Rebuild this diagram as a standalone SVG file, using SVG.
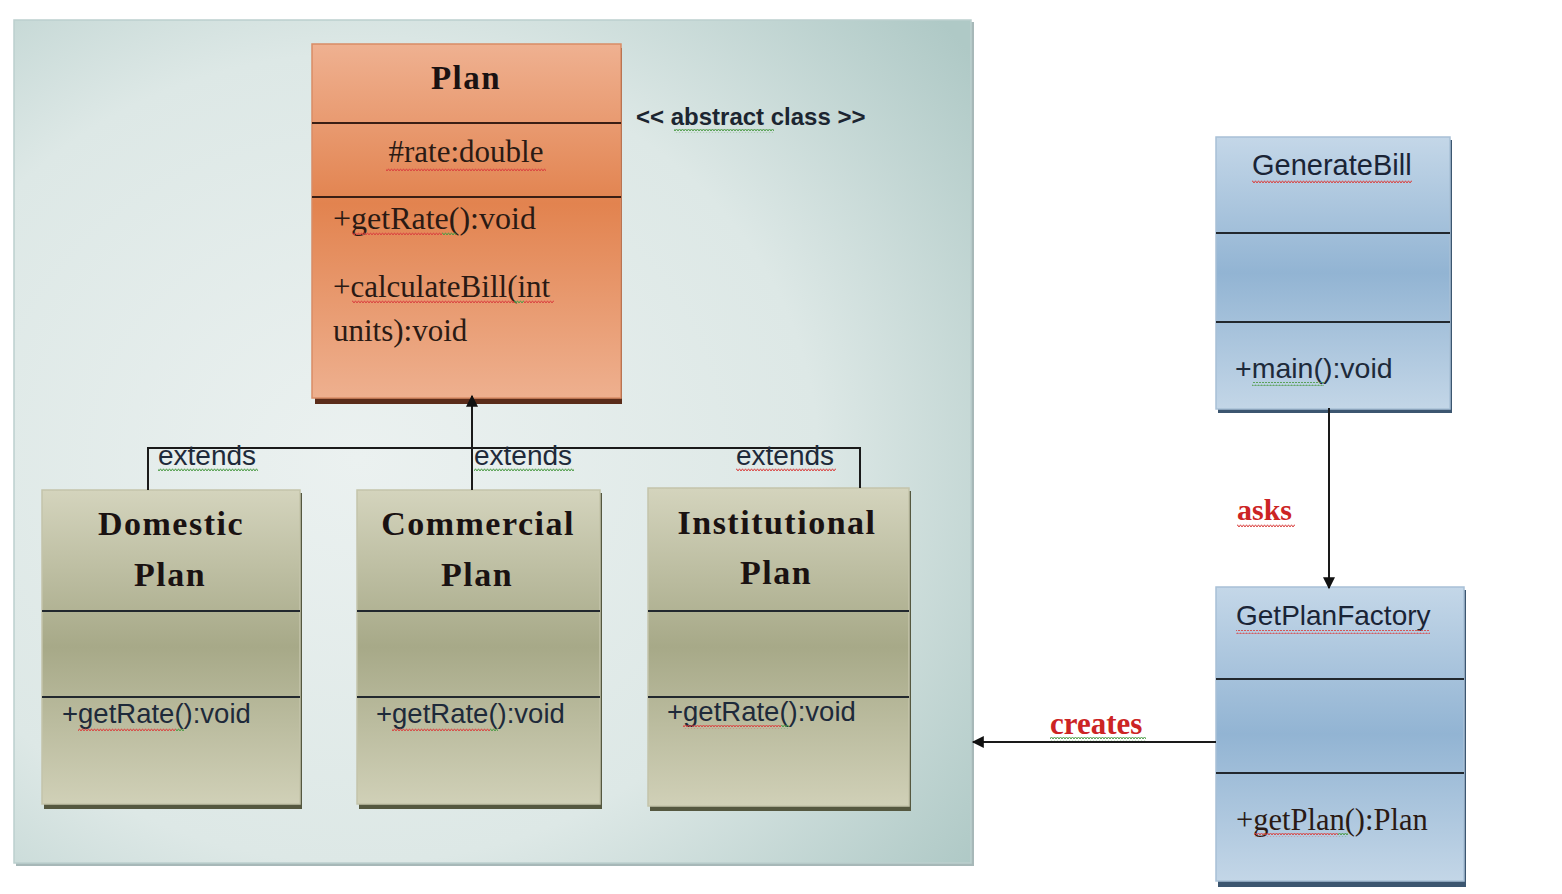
<svg xmlns="http://www.w3.org/2000/svg" width="1562" height="894" viewBox="0 0 1562 894">
  <defs>
    <radialGradient id="bgPanel" cx="0.36" cy="0.52" r="0.8">
      <stop offset="0" stop-color="#ebf1f0"/>
      <stop offset="0.6" stop-color="#dde8e6"/>
      <stop offset="1" stop-color="#afc9c6"/>
    </radialGradient>
    <linearGradient id="gOrange" x1="0" y1="0" x2="0" y2="1">
      <stop offset="0" stop-color="#efb191"/>
      <stop offset="0.45" stop-color="#e2834f"/>
      <stop offset="1" stop-color="#eeb08f"/>
    </linearGradient>
    <linearGradient id="gOlive" x1="0" y1="0" x2="0" y2="1">
      <stop offset="0" stop-color="#d4d4bd"/>
      <stop offset="0.5" stop-color="#a7a988"/>
      <stop offset="1" stop-color="#d0d0b7"/>
    </linearGradient>
    <linearGradient id="gBlue" x1="0" y1="0" x2="0" y2="1">
      <stop offset="0" stop-color="#c4d7e8"/>
      <stop offset="0.5" stop-color="#92b4d3"/>
      <stop offset="1" stop-color="#c3d6e7"/>
    </linearGradient>
    <pattern id="sqRed" width="6" height="4" patternUnits="userSpaceOnUse">
      <path d="M0 3 L1.5 0.8 L3 3 L4.5 0.8 L6 3" fill="none" stroke="#d9413f" stroke-width="1"/>
    </pattern>
    <pattern id="sqGreen" width="6" height="4" patternUnits="userSpaceOnUse">
      <path d="M0 3 L1.5 0.8 L3 3 L4.5 0.8 L6 3" fill="none" stroke="#4a9a44" stroke-width="1"/>
    </pattern>
    <marker id="arrow" viewBox="0 0 10 10" refX="9" refY="5" markerWidth="14" markerHeight="12" markerUnits="userSpaceOnUse" orient="auto">
      <path d="M0 0 L10 5 L0 10 Z" fill="#111"/>
    </marker>
  </defs>
  <style>
    .serifB { font-family: "Liberation Serif", "Times New Roman", serif; font-weight: bold; fill: #1a1212; letter-spacing: 1.5px; }
    .serif { font-family: "Liberation Serif", "Times New Roman", serif; fill: #2a1a14; }
    .sans { font-family: "Liberation Sans", Arial, sans-serif; fill: #1e2a3a; }
    .red { font-family: "Liberation Serif", "Times New Roman", serif; font-weight: bold; fill: #cc2424; }
    .div { stroke: #22282e; stroke-width: 2; }
    .conn { stroke: #1a1a1a; stroke-width: 2; fill: none; }
  </style>

  <rect width="1562" height="894" fill="#ffffff"/>

  <!-- container panel -->
  <g id="panel">
    <rect x="16" y="22" width="958" height="844" fill="#a7b8b8"/>
    <rect x="14" y="20" width="957" height="843" fill="url(#bgPanel)" stroke="#bccfce" stroke-width="1.5"/>
  </g>

  <!-- abstract class Plan -->
  <g id="plan">
    <rect x="315" y="48" width="307" height="356" fill="#5a2c1a"/>
    <rect x="312" y="44" width="309" height="354" fill="url(#gOrange)" stroke="#d98c66" stroke-width="1.5"/>
    <line class="div" x1="312" y1="123" x2="621" y2="123" style="stroke:#3a1e14"/>
    <line class="div" x1="312" y1="197" x2="621" y2="197" style="stroke:#3a1e14"/>
    <text class="serifB" x="466" y="89" font-size="33" text-anchor="middle">Plan</text>
    <text class="serif" x="466" y="162" font-size="31" text-anchor="middle">#rate:double</text>
    <text class="serif" x="333" y="229" font-size="32">+getRate():void</text>
    <text class="serif" x="333" y="297" font-size="31">+calculateBill(int</text>
    <text class="serif" x="333" y="341" font-size="31">units):void</text>
    <rect x="386" y="167" width="160" height="4" fill="url(#sqRed)"/>
    <rect x="352" y="231" width="90" height="4" fill="url(#sqRed)"/>
    <rect x="442" y="231" width="14" height="4" fill="url(#sqGreen)"/>
    <rect x="352" y="299" width="162" height="4" fill="url(#sqRed)"/>
    <rect x="514" y="299" width="10" height="4" fill="url(#sqGreen)"/>
    <rect x="524" y="299" width="30" height="4" fill="url(#sqRed)"/>
  </g>

  <g id="stereotype">
    <text class="sans" x="636" y="125" font-size="24" font-weight="bold" style="fill:#1c2530">&lt;&lt; abstract class &gt;&gt;</text>
    <rect x="674" y="129" width="100" height="4" fill="url(#sqGreen)"/>
  </g>

  <!-- concrete plans -->
  <g id="domestic">
    <rect x="44" y="493" width="258" height="316" fill="#555840"/>
    <rect x="42" y="490" width="258" height="314" fill="url(#gOlive)" stroke="#c4c4aa" stroke-width="1.5"/>
    <line class="div" x1="42" y1="611" x2="300" y2="611"/>
    <line class="div" x1="42" y1="697" x2="300" y2="697"/>
    <text class="serifB" x="171" y="535" font-size="34" text-anchor="middle">Domestic</text>
    <text class="serifB" x="170" y="586" font-size="34" text-anchor="middle">Plan</text>
    <text class="sans" x="62" y="723" font-size="27.5">+getRate():void</text>
    <rect x="78" y="727" width="98" height="4" fill="url(#sqRed)"/>
    <rect x="176" y="727" width="8" height="4" fill="url(#sqGreen)"/>
  </g>

  <g id="commercial">
    <rect x="359" y="493" width="243" height="316" fill="#555840"/>
    <rect x="357" y="490" width="243" height="314" fill="url(#gOlive)" stroke="#c4c4aa" stroke-width="1.5"/>
    <line class="div" x1="357" y1="611" x2="600" y2="611"/>
    <line class="div" x1="357" y1="697" x2="600" y2="697"/>
    <text class="serifB" x="478" y="535" font-size="34" text-anchor="middle">Commercial</text>
    <text class="serifB" x="477" y="586" font-size="34" text-anchor="middle">Plan</text>
    <text class="sans" x="376" y="723" font-size="27.5">+getRate():void</text>
    <rect x="392" y="727" width="98" height="4" fill="url(#sqRed)"/>
    <rect x="490" y="727" width="8" height="4" fill="url(#sqGreen)"/>
  </g>

  <g id="institutional">
    <rect x="650" y="491" width="261" height="320" fill="#555840"/>
    <rect x="648" y="488" width="261" height="318" fill="url(#gOlive)" stroke="#c4c4aa" stroke-width="1.5"/>
    <line class="div" x1="648" y1="611" x2="909" y2="611"/>
    <line class="div" x1="648" y1="697" x2="909" y2="697"/>
    <text class="serifB" x="777" y="534" font-size="34" text-anchor="middle">Institutional</text>
    <text class="serifB" x="776" y="584" font-size="34" text-anchor="middle">Plan</text>
    <text class="sans" x="667" y="721" font-size="27.5">+getRate():void</text>
    <rect x="683" y="725" width="98" height="4" fill="url(#sqRed)"/>
    <rect x="781" y="725" width="8" height="4" fill="url(#sqGreen)"/>
  </g>

  <!-- client classes -->
  <g id="generateBill">
    <rect x="1218" y="140" width="234" height="273" fill="#3c5670"/>
    <rect x="1216" y="137" width="234" height="272" fill="url(#gBlue)" stroke="#a8c0d6" stroke-width="1.5"/>
    <line class="div" x1="1216" y1="233" x2="1450" y2="233"/>
    <line class="div" x1="1216" y1="322" x2="1450" y2="322"/>
    <text class="sans" x="1252" y="175" font-size="29" style="fill:#1a2436">GenerateBill</text>
    <text class="sans" x="1235" y="378" font-size="28.5">+main():void</text>
    <rect x="1252" y="180" width="160" height="4" fill="url(#sqRed)"/>
    <rect x="1252" y="382" width="72" height="4" fill="url(#sqGreen)"/>
  </g>

  <g id="getPlanFactory">
    <rect x="1218" y="590" width="248" height="297" fill="#3c5670"/>
    <rect x="1216" y="587" width="248" height="294" fill="url(#gBlue)" stroke="#a8c0d6" stroke-width="1.5"/>
    <line class="div" x1="1216" y1="679" x2="1464" y2="679"/>
    <line class="div" x1="1216" y1="773" x2="1464" y2="773"/>
    <text class="sans" x="1236" y="625" font-size="28" style="fill:#1a2436">GetPlanFactory</text>
    <text class="serif" x="1236" y="830" font-size="30.5">+getPlan():Plan</text>
    <rect x="1236" y="630" width="194" height="4" fill="url(#sqRed)"/>
    <rect x="1254" y="833" width="84" height="4" fill="url(#sqRed)"/>
    <rect x="1338" y="833" width="10" height="4" fill="url(#sqGreen)"/>
  </g>

  <!-- connectors -->
  <g id="connectors">
    <polyline class="conn" points="148,490 148,448 860,448 860,488"/>
    <line class="conn" x1="472" y1="490" x2="472" y2="396" marker-end="url(#arrow)"/>
    <line class="conn" x1="1329" y1="408" x2="1329" y2="588" marker-end="url(#arrow)"/>
    <line class="conn" x1="1216" y1="742" x2="973" y2="742" marker-end="url(#arrow)"/>

    <text class="sans" x="158" y="465" font-size="28">extends</text>
    <rect x="158" y="468" width="100" height="4" fill="url(#sqGreen)"/>
    <text class="sans" x="474" y="465" font-size="28">extends</text>
    <rect x="474" y="468" width="100" height="4" fill="url(#sqGreen)"/>
    <text class="sans" x="736" y="465" font-size="28">extends</text>
    <rect x="736" y="468" width="100" height="4" fill="url(#sqRed)"/>

    <text class="red" x="1237" y="520" font-size="30">asks</text>
    <rect x="1237" y="524" width="58" height="4" fill="url(#sqRed)"/>
    <text class="red" x="1050" y="734" font-size="31">creates</text>
    <rect x="1050" y="737" width="96" height="4" fill="url(#sqGreen)"/>
  </g>
</svg>
